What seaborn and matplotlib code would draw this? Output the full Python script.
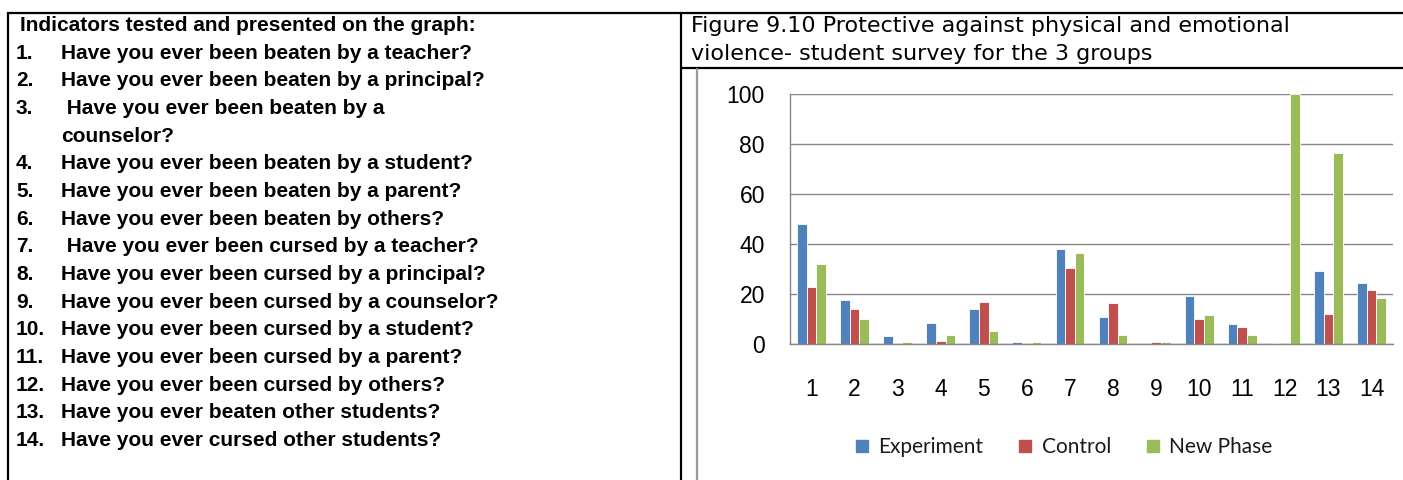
import pandas as pd
import numpy as np
import matplotlib.pyplot as plt
import seaborn as sns
from matplotlib import font_manager
from matplotlib.lines import Line2D

# ---------------------------------------------------------
# DATA
# ---------------------------------------------------------
header = "Indicators tested and presented on the graph:"
questions = [
    "Have you ever been beaten by a teacher?",
    "Have you ever been beaten by a principal?",
    " Have you ever been beaten by a",
    "Have you ever been beaten by a student?",
    "Have you ever been beaten by a parent?",
    "Have you ever been beaten by others?",
    " Have you ever been cursed by a teacher?",
    "Have you ever been cursed by a principal?",
    "Have you ever been cursed by a counselor?",
    "Have you ever been cursed by a student?",
    "Have you ever been cursed by a parent?",
    "Have you ever been cursed by others?",
    "Have you ever beaten other students?",
    "Have you ever cursed other students?",
]
wrapped = {3: "counselor?"}  # continuation line after question 3

title_lines = ["Figure 9.10 Protective against physical and emotional",
               "violence- student survey for the 3 groups"]

categories = [str(i) for i in range(1, 15)]
groups = ["Experiment", "Control", "New Phase"]
experiment = [48.3, 17.7, 3.3, 8.7, 14.0, 0.9, 38.3, 11.1, 0.0, 19.2, 8.1, 0.5, 29.2, 24.5]
control = [22.9, 14.0, 0.0, 1.5, 16.8, 0.0, 30.7, 16.4, 0.9, 10.1, 6.8, 0.0, 12.0, 21.6]
new_phase = [32.1, 10.1, 0.9, 3.9, 5.3, 0.9, 36.4, 3.9, 0.9, 11.6, 3.9, 100.0, 76.5, 18.7]
y_ticks = [0, 20, 40, 60, 80, 100]

colors = ["#4F81BD", "#C0504D", "#9BBB59"]
grid_gray = "#868686"


def pick_font(names):
    for n in names:
        try:
            font_manager.findfont(font_manager.FontProperties(family=n), fallback_to_default=False)
            return n
        except Exception:
            pass
    return "DejaVu Sans"


sns.set_style("white")
arial = pick_font(["Liberation Sans", "Arial"])
legend_font = pick_font(["Lato", "Open Sans"])
plt.rcParams["font.family"] = [arial, "DejaVu Sans"]
plt.rcParams["text.color"] = "black"

W, H = 1403, 480
fig = plt.figure(figsize=(W / 100, H / 100), dpi=100)
fig.patch.set_facecolor("white")


def fx(px):
    return px / W


def fy(py):
    return 1 - py / H


# ---------------------------------------------------------
# TABLE BORDERS
# ---------------------------------------------------------
border = dict(color="black", lw=1.6, solid_capstyle="butt")
fig.add_artist(Line2D([fx(7), fx(1403)], [fy(12.5), fy(12.5)], **border))
fig.add_artist(Line2D([fx(7.5), fx(7.5)], [fy(12), fy(480)], **border))
fig.add_artist(Line2D([fx(681), fx(681)], [fy(12), fy(480)], **border))
fig.add_artist(Line2D([fx(681), fx(1403)], [fy(67.5), fy(67.5)], **border))
fig.add_artist(Line2D([fx(697), fx(697)], [fy(69), fy(480)], color="#9a9a9a", lw=1.6))

# ---------------------------------------------------------
# LEFT TEXT (baselines)
# ---------------------------------------------------------
row_h = 27.67
base0 = 31
txt = dict(weight="bold", fontsize=15, va="baseline", ha="left")
fig.text(fx(20), fy(base0), header, **txt)
row = 1
for i, q in enumerate(questions, start=1):
    y = fy(base0 + row * row_h)
    fig.text(fx(16), y, f"{i}.", **txt)
    fig.text(fx(61), y, q, **txt)
    row += 1
    if i in wrapped:
        fig.text(fx(61), fy(base0 + row * row_h), wrapped[i], **txt)
        row += 1

# chart title
for k, line in enumerate(title_lines):
    fig.text(fx(691), fy(32 + k * 28), line, family="DejaVu Sans", fontsize=16,
             va="baseline", ha="left")

# ---------------------------------------------------------
# BAR CHART
# ---------------------------------------------------------
df = pd.DataFrame({
    "item": categories * 3,
    "value": experiment + control + new_phase,
    "group": [g for g in groups for _ in categories],
})

ax = fig.add_axes([fx(790), fy(344.3), fx(1393) - fx(790), (344.3 - 94.3) / H])
sns.barplot(data=df, x="item", y="value", hue="group", palette=colors,
            width=0.67, saturation=1, edgecolor="white", linewidth=0.6,
            ax=ax, legend=False)

ax.set_ylim(0, 100)
ax.set_xlim(-0.5, len(categories) - 0.5)
ax.set_yticks(y_ticks)
ax.yaxis.grid(True, color=grid_gray, lw=1)
ax.set_axisbelow(True)
ax.set_xlabel("")
ax.set_ylabel("")
for s in ["top", "right"]:
    ax.spines[s].set_visible(False)
for s in ["left", "bottom"]:
    ax.spines[s].set_color(grid_gray)
    ax.spines[s].set_linewidth(1)

ax.tick_params(axis="y", length=8, color=grid_gray, width=1, pad=10,
               labelsize=16.5, labelcolor="black")
ax.set_xticks(np.arange(-0.5, len(categories)), minor=True)
ax.tick_params(axis="x", which="minor", length=6, color=grid_gray, width=1)
ax.tick_params(axis="x", which="major", length=0, pad=24, labelsize=16.5,
               labelcolor="black")

# legend
handles = [Line2D([], [], marker="s", ls="", color=c, markersize=9) for c in colors]
fig.legend(handles, groups, loc="center", bbox_to_anchor=(fx(1063), fy(447)),
           ncol=3, frameon=False, handlelength=0.8, handletextpad=0.4,
           columnspacing=1.6, labelcolor="#1a1a1a",
           prop={"family": legend_font, "size": 15})

plt.savefig("out.png", dpi=100)
plt.close()
